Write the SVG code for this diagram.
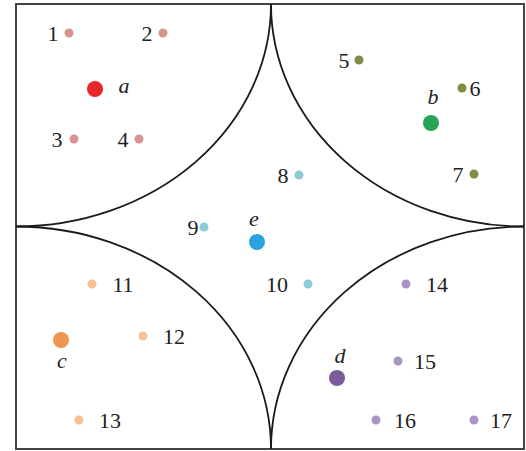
<svg xmlns="http://www.w3.org/2000/svg" width="526" height="451" viewBox="0 0 526 451">
<style>
text{font-family:"Liberation Serif","Times New Roman",serif;font-size:22px;fill:#222;text-anchor:middle}
.it{font-style:italic}
.arc{fill:none;stroke:#1a1a1a;stroke-width:1.8}
.pa{fill:#d4958f}.pb{fill:#7f8c45}.pc{fill:#f5c092}.pd{fill:#a995c4}.pe{fill:#8ecad6}
</style>
<rect x="0" y="0" width="526" height="451" fill="#fff"/>
<g id="connectors">
<rect x="16" y="4" width="508" height="445" fill="none" stroke="#444" stroke-width="2"/>
<path class="arc" d="M16,226.5 A255,222.5 0 0 0 271,4"/>
<path class="arc" d="M271,4 A253,222.5 0 0 0 524,226.5"/>
<path class="arc" d="M16,226.5 A255,222.5 0 0 1 271,449"/>
<path class="arc" d="M271,449 A253,222.5 0 0 1 524,226.5"/>
</g>
<g id="a"><circle cx="95" cy="89" r="8" fill="#e8262a"/><text class="it" x="124" y="93">a</text></g>
<g id="n1"><circle class="pa" cx="69" cy="33" r="4.5"/><text x="53" y="41">1</text></g>
<g id="n2"><circle class="pa" cx="163" cy="33" r="4.5"/><text x="147" y="41">2</text></g>
<g id="n3"><circle class="pa" cx="74" cy="139" r="4.5"/><text x="57" y="147">3</text></g>
<g id="n4"><circle class="pa" cx="139" cy="139" r="4.5"/><text x="123" y="147">4</text></g>
<g id="b"><circle cx="431" cy="123" r="8" fill="#27a556"/><text class="it" x="433" y="104">b</text></g>
<g id="n5"><circle class="pb" cx="359" cy="60" r="4.5"/><text x="344" y="68">5</text></g>
<g id="n6"><circle class="pb" cx="462" cy="88" r="4.5"/><text x="475" y="96">6</text></g>
<g id="n7"><circle class="pb" cx="474" cy="174" r="4.5"/><text x="458" y="182">7</text></g>
<g id="e"><circle cx="257" cy="242" r="8" fill="#29a3dd"/><text class="it" x="254" y="226">e</text></g>
<g id="n8"><circle class="pe" cx="299" cy="175" r="4.5"/><text x="283" y="183">8</text></g>
<g id="n9"><circle class="pe" cx="204" cy="227" r="4.5"/><text x="193" y="235">9</text></g>
<g id="n10"><circle class="pe" cx="308" cy="284" r="4.5"/><text x="277" y="292">10</text></g>
<g id="c"><circle cx="61" cy="340" r="8" fill="#ee9650"/><text class="it" x="62" y="368">c</text></g>
<g id="n11"><circle class="pc" cx="92" cy="284" r="4.5"/><text x="123" y="292">11</text></g>
<g id="n12"><circle class="pc" cx="143" cy="336" r="4.5"/><text x="174" y="344">12</text></g>
<g id="n13"><circle class="pc" cx="79" cy="420" r="4.5"/><text x="110" y="428">13</text></g>
<g id="d"><circle cx="337" cy="378" r="8" fill="#7a5b9b"/><text class="it" x="340" y="363">d</text></g>
<g id="n14"><circle class="pd" cx="406" cy="284" r="4.5"/><text x="437" y="292">14</text></g>
<g id="n15"><circle class="pd" cx="398" cy="361" r="4.5"/><text x="425" y="369">15</text></g>
<g id="n16"><circle class="pd" cx="376" cy="420" r="4.5"/><text x="405" y="428">16</text></g>
<g id="n17"><circle class="pd" cx="474" cy="420" r="4.5"/><text x="501" y="428">17</text></g>
</svg>
